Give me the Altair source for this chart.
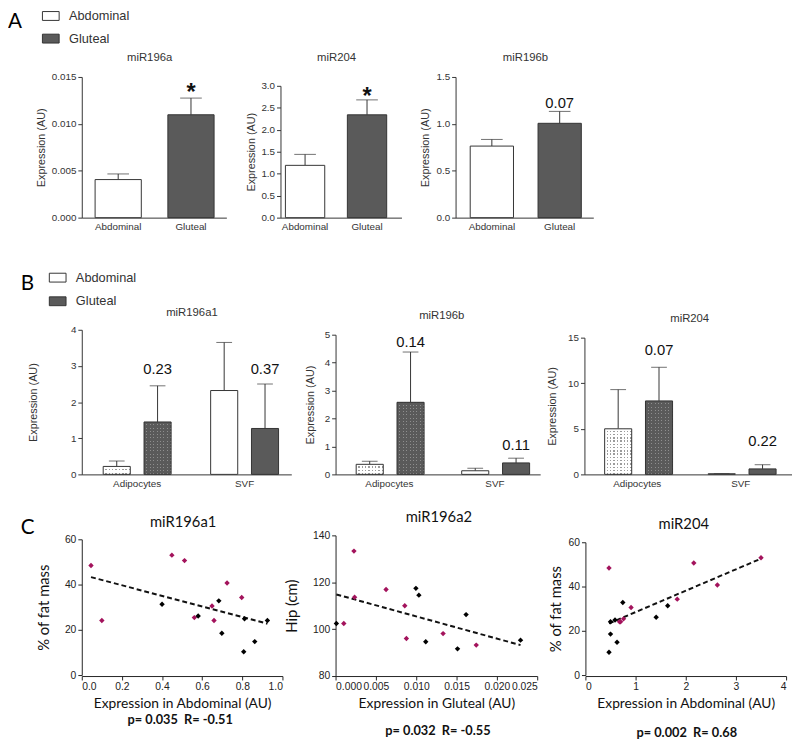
import altair as alt
import pandas as pd

FONT = "Liberation Sans"
NARROW = "Liberation Sans Narrow, Liberation Sans"
CFONT = "Lato"
INK = "#333333"
MAG = "#a3135c"
CLEAR = "rgba(255,255,255,0)"

# ---------------- data ----------------
panel_letters = ["A", "B", "C"]
tissues = ["Abdominal", "Gluteal"]
tissue_fill = ["#ffffff", "#5a5a5a"]

# Panel A : whole tissue
a_titles = ["miR196a", "miR204", "miR196b"]
a_mean = [[0.00406, 0.01097], [1.19, 2.34], [0.763, 1.006]]
a_err = [[0.00466, 0.01275], [1.44, 2.68], [0.834, 1.133]]
a_note = ["*", "*", "0.07"]
a_note_y = [0.0140, 2.89, 1.22]
a_ymax = [0.015, 3.0, 1.5]
a_ticks = [[0.0, 0.005, 0.010, 0.015], [0.0, 0.5, 1.0, 1.5, 2.0, 2.5, 3.0], [0.0, 0.5, 1.0, 1.5]]
a_fmt = [".3f", ".1f", ".1f"]

# Panel B : fractions
fractions = ["Adipocytes", "SVF"]
b_titles = ["miR196a1", "miR196b", "miR204"]
b_mean_abd = [[0.22, 2.32], [0.36, 0.13], [5.0, 0.07]]
b_mean_glu = [[1.45, 1.27], [2.58, 0.41], [8.06, 0.60]]
b_err_abd = [[0.37, 3.65], [0.47, 0.22], [9.3, 0.10]]
b_err_glu = [[2.45, 2.50], [4.38, 0.58], [11.75, 1.06]]
b_note = [["0.23", "0.37"], ["0.14", "0.11"], ["0.07", "0.22"]]
b_note_y = [[2.9, 2.9], [4.72, 1.05], [13.6, 3.6]]
b_ymax = [4, 5, 15]
b_ticks = [[0, 1, 2, 3, 4], [0, 1, 2, 3, 4, 5], [0, 5, 10, 15]]

# Panel C : correlations
c_titles = ["miR196a1", "miR196a2", "miR204"]
c_xtitles = ["Expression in Abdominal (AU)", "Expression in Gluteal (AU)", "Expression in Abdominal (AU)"]
c_ytitles = ["% of fat mass", "Hip (cm)", "% of fat mass"]
c_stats = ["p= 0.035\u00a0\u00a0R= -0.51", "p= 0.032\u00a0\u00a0R= -0.55", "p= 0.002\u00a0\u00a0R= 0.68"]
c_groups = ["group 1", "group 2"]

fat_mag = [48.4, 24.1, 53.0, 50.6, 25.4, 30.5, 24.1, 40.7, 34.3]
fat_blk = [31.3, 26.1, 32.8, 18.5, 10.3, 24.9, 14.8, 24.1]
c1_x_mag = [0.046, 0.10, 0.449, 0.512, 0.561, 0.649, 0.659, 0.724, 0.797]
c1_x_blk = [0.40, 0.58, 0.683, 0.698, 0.807, 0.811, 0.862, 0.925]
c3_x_mag = [0.47, 0.68, 3.50, 2.16, 0.76, 0.91, 0.70, 2.63, 1.83]
c3_x_blk = [1.64, 1.41, 0.745, 0.50, 0.47, 0.59, 0.63, 0.50]
c2_x_mag = [0.00102, 0.00228, 0.00236, 0.00626, 0.00858, 0.00878, 0.01333, 0.01744]
c2_y_mag = [102.4, 133.3, 113.6, 116.9, 110.0, 96.0, 98.1, 93.2]
c2_x_blk = [0.0001, 0.00996, 0.01033, 0.01118, 0.01512, 0.01618, 0.02293]
c2_y_blk = [102.4, 117.4, 114.5, 94.6, 91.6, 106.2, 95.3]


# ---------------- helpers ----------------
def one(col, val):
    return alt.Chart(pd.DataFrame({col: [val]}))


def text_layer(txt, x, y, font, size, weight="normal", color=INK, align="center", baseline="middle"):
    return one("t", txt).mark_text(font=font, fontSize=size, fontWeight=weight, color=color,
                                   align=align, baseline=baseline).encode(
        text="t:N", x=alt.value(x), y=alt.value(y))


def letter_layer(letter, x, y):
    return text_layer(letter, x, y, CFONT, 21, color="#000", align="left", baseline="top")


def spacer(y):
    return one("s", 0).mark_rule(strokeOpacity=0, strokeWidth=1).encode(y=alt.value(y))


def legend_layers(x0, y0, step):
    out = []
    for k, t in enumerate(tissues):
        cy = y0 + k * step
        out.append(one("tissue", t).mark_rect(fill=tissue_fill[k], stroke=INK, strokeWidth=1).encode(
            x=alt.value(x0), x2=alt.value(x0 + 17), y=alt.value(cy - 4.5), y2=alt.value(cy + 4.5)))
        out.append(one("tissue", t).mark_text(font=FONT, fontSize=13, color=INK, align="left",
                                              baseline="top").encode(
            text="tissue:N", x=alt.value(x0 + 27), y=alt.value(cy - 5.7)))
    return out


def stripes(color, n, horizontal, frac):
    stops = []
    for k in range(n):
        a = k / n
        b = (k + 1 - frac) / n
        c = (k + 1) / n
        stops += [alt.GradientStop(offset=a, color=color), alt.GradientStop(offset=b, color=color),
                  alt.GradientStop(offset=b, color=CLEAR), alt.GradientStop(offset=c, color=CLEAR)]
    if horizontal:
        return alt.LinearGradient(gradient="linear", stops=stops, x1=0, y1=0, x2=0, y2=1)
    return alt.LinearGradient(gradient="linear", stops=stops, x1=0, y1=0, x2=1, y2=0)


def ab_yaxis(values, fmt, pad):
    return alt.Axis(title="Expression (AU)", values=values, format=fmt, grid=False,
                    domainColor=INK, tickColor=INK, labelColor=INK, titleColor=INK,
                    labelFont=FONT, titleFont=FONT, labelFontSize=10, titleFontSize=11,
                    titleFontWeight="normal", tickSize=4, labelPadding=2, titlePadding=pad)


def ab_xaxis():
    return alt.Axis(title=None, labelAngle=0, ticks=False, tickSize=0, labelPadding=4,
                    domainColor=INK, labelColor=INK, labelFont=FONT, labelFontSize=10, grid=False)


# ---------------- panel A ----------------
a_layout = [
    dict(W=147, yr=[143, 0], pi=0.365, po=0.176, al=0.52, tp=4.5, tx=69),
    dict(W=123, yr=[143, 9], pi=0.365, po=0.159, al=0.25, tp=4.5, tx=57),
    dict(W=140, yr=[143, 0], pi=0.362, po=0.196, al=0.55, tp=6, tx=71),
]
A_H = 143
TOP_SPACER = -90


def a_chart(i):
    L = a_layout[i]
    df = pd.DataFrame({"tissue": tissues, "mean": a_mean[i], "err": a_err[i]})
    ndf = pd.DataFrame({"tissue": [tissues[1]], "note": [a_note[i]], "ny": [a_note_y[i]]})
    xs = alt.Scale(domain=tissues, paddingInner=L["pi"], paddingOuter=L["po"], align=L["al"])
    ys = alt.Scale(domain=[0, a_ymax[i]], range=L["yr"], nice=False)
    X = alt.X("tissue:N", scale=xs, axis=ab_xaxis(), sort=tissues)
    yax = ab_yaxis(a_ticks[i], a_fmt[i], L["tp"])
    fill = alt.Fill("tissue:N", scale=alt.Scale(domain=tissues, range=tissue_fill), legend=None)
    bars = alt.Chart(df).mark_bar(stroke=INK, strokeWidth=1).encode(
        x=X, y=alt.Y("mean:Q", scale=ys, axis=yax), fill=fill)
    rule = alt.Chart(df).mark_rule(color=INK, strokeWidth=1).encode(
        x=X, y=alt.Y("mean:Q", scale=ys, axis=yax), y2="err:Q")
    cap = alt.Chart(df).mark_tick(color=INK, size=22, thickness=1).encode(
        x=X, y=alt.Y("err:Q", scale=ys, axis=yax))
    if a_note[i] == "*":
        note = alt.Chart(ndf).mark_text(font=FONT, fontSize=24, fontWeight="bold", color="#111",
                                        baseline="middle", dy=7).encode(
            x=X, y=alt.Y("ny:Q", scale=ys, axis=yax), text="note:N")
    else:
        note = alt.Chart(ndf).mark_text(font=NARROW, fontSize=15, color="#111",
                                        baseline="middle").encode(
            x=X, y=alt.Y("ny:Q", scale=ys, axis=yax), text="note:N")
    layers = [rule, cap, bars, note,
              text_layer(a_titles[i], L["tx"], -19, FONT, 11.5)]
    if i == 0:
        layers += legend_layers(-40, -62, 23)
        layers += [letter_layer(panel_letters[0], -75, -66.5), spacer(TOP_SPACER), spacer(180)]
    return alt.layer(*layers).properties(width=L["W"], height=A_H)


# ---------------- panel B ----------------
b_layout = [
    dict(W=213, yr=[147, 0], pix=0.368, pox=0.159, alx=0.627, pio=0.337, tp=32, tx=112, ty=-17),
    dict(W=208, yr=[147, 5], pix=0.371, pox=0.155, alx=0.63, pio=0.333, tp=9, tx=108, ty=-14),
    dict(W=211, yr=[147, 8], pix=0.3705, pox=0.1876, alx=0.52, pio=0.333, tp=10, tx=107, ty=-11),
]
B_H = 147
DOT = ["#9c9c9c", "#8e8e8e"]
DOT_GAP = [0.42, 0.3]


def b_chart(i):
    L = b_layout[i]
    rows = []
    for fi, f in enumerate(fractions):
        rows.append({"fraction": f, "tissue": tissues[0], "mean": b_mean_abd[i][fi], "err": b_err_abd[i][fi]})
        rows.append({"fraction": f, "tissue": tissues[1], "mean": b_mean_glu[i][fi], "err": b_err_glu[i][fi]})
    df = pd.DataFrame(rows)
    ndf = pd.DataFrame({"fraction": fractions, "tissue": [tissues[1]] * 2,
                        "note": b_note[i], "ny": b_note_y[i]})
    xs = alt.Scale(domain=fractions, paddingInner=L["pix"], paddingOuter=L["pox"], align=L["alx"])
    X = alt.X("fraction:N", scale=xs, axis=ab_xaxis(), sort=fractions)
    XO = alt.XOffset("tissue:N", scale=alt.Scale(domain=tissues, paddingInner=L["pio"], paddingOuter=0),
                     sort=tissues)
    ys = alt.Scale(domain=[0, b_ymax[i]], range=L["yr"], nice=False)
    yax = ab_yaxis(b_ticks[i], "d", L["tp"])
    Y = alt.Y("mean:Q", scale=ys, axis=yax)
    fill = alt.Fill("tissue:N", scale=alt.Scale(domain=tissues, range=tissue_fill), legend=None)
    base = alt.Chart(df)
    is_svf = "datum.fraction == 'SVF'"
    is_adip = "datum.fraction == 'Adipocytes'"
    svf = base.transform_filter(is_svf).mark_bar(stroke=INK, strokeWidth=1).encode(
        x=X, xOffset=XO, y=Y, fill=fill)
    adip_layers = []
    span = L["yr"][0] - L["yr"][1]
    for ti, col in enumerate(tissue_fill):
        cond = is_adip + " && datum.tissue == '" + tissues[ti] + "'"
        mean_v = (b_mean_abd if ti == 0 else b_mean_glu)[i][0]
        n_h = max(1, int(round(mean_v / b_ymax[i] * span / 3.4)))
        sub = base.transform_filter(cond)
        adip_layers.append(sub.mark_bar(fill=DOT[ti], strokeWidth=0).encode(x=X, xOffset=XO, y=Y))
        adip_layers.append(sub.mark_bar(fill=stripes(col, 8, False, DOT_GAP[ti]), strokeWidth=0).encode(
            x=X, xOffset=XO, y=Y))
        adip_layers.append(sub.mark_bar(fill=stripes(col, n_h, True, DOT_GAP[ti]), strokeWidth=0).encode(
            x=X, xOffset=XO, y=Y))
    outline = base.transform_filter(is_adip).mark_bar(fillOpacity=0, stroke=INK, strokeWidth=1).encode(
        x=X, xOffset=XO, y=Y)
    rule = base.mark_rule(color=INK, strokeWidth=1).encode(
        x=X, xOffset=XO, y=Y, y2="err:Q")
    cap = base.mark_tick(color=INK, size=16, thickness=1).encode(
        x=X, xOffset=XO, y=alt.Y("err:Q", scale=ys, axis=yax))
    note = alt.Chart(ndf).mark_text(font=NARROW, fontSize=15, color="#111", baseline="middle").encode(
        x=X, xOffset=XO, y=alt.Y("ny:Q", scale=ys, axis=yax), text="note:N")
    layers = [rule, cap, svf] + adip_layers + [outline, note,
                                              text_layer(b_titles[i], L["tx"], L["ty"], FONT, 11.5)]
    if i == 0:
        layers += legend_layers(-33, -53, 24)
        layers += [letter_layer(panel_letters[1], -62, -57), spacer(-77), spacer(175)]
    return alt.layer(*layers).properties(width=L["W"], height=B_H)


# ---------------- panel C ----------------
c_data = [
    (c1_x_mag, fat_mag, c1_x_blk, fat_blk),
    (c2_x_mag, c2_y_mag, c2_x_blk, c2_y_blk),
    (c3_x_mag, fat_mag, c3_x_blk, fat_blk),
]
c_layout = [
    dict(W=204, xr=[0, 204], yr=[142, 4], xdom=[0, 1], xt=[0, 0.2, 0.4, 0.6, 0.8, 1.0], xf=".1f",
         ydom=[0, 60], yt=[0, 20, 40, 60], tp=13, tx=103, ty=-14, sx=100, sy=188),
    dict(W=200, xr=[0, 205], yr=[143, 0], xdom=[0, 0.025], xt=[0, 0.005, 0.01, 0.015, 0.02, 0.025],
         xf=".3f", ydom=[80, 140], yt=[80, 100, 120, 140], tp=13, tx=105, ty=-19, sx=104, sy=199),
    dict(W=204, xr=[0, 204], yr=[142, 7], xdom=[0, 4], xt=[0, 1, 2, 3, 4], xf="d",
         ydom=[0, 60], yt=[0, 20, 40, 60], tp=5, tx=100, ty=-11, sx=103, sy=201),
]
C_H = 143


def c_chart(i):
    L = c_layout[i]
    xm, ym, xb, yb = c_data[i]
    df = pd.DataFrame({"x": xm + xb, "y": ym + yb,
                       "grp": [c_groups[0]] * len(xm) + [c_groups[1]] * len(xb)})
    xs = alt.Scale(domain=L["xdom"], range=L["xr"], nice=False, zero=False)
    ys = alt.Scale(domain=L["ydom"], range=L["yr"], nice=False, zero=False)
    xax = alt.Axis(title=c_xtitles[i], values=L["xt"], format=L["xf"], grid=False,
                   domainColor="#222", tickColor="#222", labelColor="#222", titleColor="#111",
                   labelFont=FONT, labelFontSize=10.5, titleFont=CFONT, titleFontSize=14,
                   titleFontWeight="normal", tickSize=4, labelPadding=2, titlePadding=4)
    yax = alt.Axis(title=c_ytitles[i], values=L["yt"], grid=False,
                   domainColor="#222", tickColor="#222", labelColor="#222", titleColor="#111",
                   labelFont=FONT, labelFontSize=10.5, titleFont=CFONT, titleFontSize=15,
                   titleFontWeight="normal", tickSize=4, labelPadding=2, titlePadding=L["tp"])
    X = alt.X("x:Q", scale=xs, axis=xax)
    Y = alt.Y("y:Q", scale=ys, axis=yax)
    line = alt.Chart(df).transform_regression("x", "y").mark_line(
        color="#111", strokeWidth=2, strokeDash=[5, 3]).encode(x=X, y=Y)
    pts = alt.Chart(df).mark_point(shape="diamond", filled=True, size=30, opacity=1).encode(
        x=X, y=Y, color=alt.Color("grp:N", scale=alt.Scale(domain=c_groups, range=[MAG, "#000000"]),
                                  legend=None))
    layers = [line, pts,
              text_layer(c_titles[i], L["tx"], L["ty"], CFONT, 15, color="#111"),
              text_layer(c_stats[i], L["sx"], L["sy"], CFONT, 13, weight="bold", color="#111")]
    if i == 0:
        layers += [letter_layer(panel_letters[2], -62, -18), spacer(-34)]
    return alt.layer(*layers).properties(width=L["W"], height=C_H)


row_a = alt.hconcat(*[a_chart(i) for i in range(3)], spacing=55, bounds="flush").resolve_scale(fill="independent")
row_b = alt.hconcat(*[b_chart(i) for i in range(3)], spacing=45, bounds="flush").resolve_scale(fill="independent")
row_c = alt.hconcat(*[c_chart(i) for i in range(3)], spacing=54, bounds="flush").resolve_scale(color="independent")

# the invisible top spacer sits above the page; a negative top padding hides its empty band
PAD_TOP = 75 - 8 + TOP_SPACER - 3

chart = alt.vconcat(row_a, row_b, row_c, spacing=0).resolve_scale(
    fill="independent", color="independent").properties(
    padding={"top": PAD_TOP, "left": 0, "right": 0, "bottom": 0}, background="white").configure_view(strokeWidth=0)

chart.save("out.html", embed_options={"renderer": "svg", "actions": False})
